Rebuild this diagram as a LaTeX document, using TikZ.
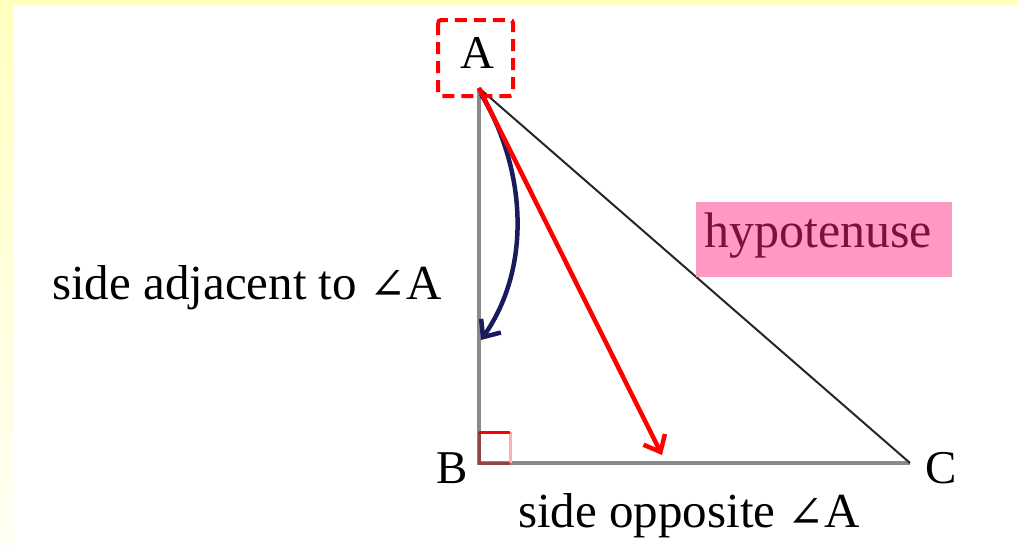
\documentclass[tikz,border=0pt]{standalone}
\usepackage{fontspec}
\setmainfont{Liberation Serif}
\newfontfamily\symfont{DejaVu Serif}
\usetikzlibrary{arrows.meta}
\definecolor{bgyel}{HTML}{FFFFC0}
\definecolor{bgpale}{HTML}{FFFFF4}
\definecolor{sidegray}{HTML}{8A8A8A}
\definecolor{navyarr}{HTML}{1A1A5C}
\definecolor{hypfill}{HTML}{FF99C4}
\definecolor{hyptext}{HTML}{7A1040}
\definecolor{sqpink}{HTML}{FFB0B0}
\newcommand{\angsym}{{\symfont\fontsize{44}{48}\selectfont ∠}}
\tikzset{
  lbl/.style={font=\fontsize{47}{50}\selectfont, inner sep=0pt, anchor=base},
  sidetext/.style={font=\fontsize{49}{53}\selectfont, inner sep=0pt, anchor=base west},
  arr/.style={line width=4.5pt, -{Straight Barb[length=14pt,width=24pt,line width=4.5pt]}},
}
\begin{document}
\begin{tikzpicture}[x=1pt,y=-1pt]
\useasboundingbox (0,0) rectangle (1018,544);
% background
\fill[bgyel] (0,0) rectangle (1018,5);
\shade[top color=bgyel, bottom color=bgpale] (0,5) rectangle (13.5,544);
% vertices
\coordinate (A) at (479,88);
\coordinate (B) at (479,463);
\coordinate (C) at (910,463);
% triangle
\draw[sidegray, line width=3.2pt] (A) -- (B) -- (C);
\draw[black!85, line width=2pt] (A) -- (C);
% right angle square
\draw[sqpink, line width=3pt] (510,432) -- (510,463);
\draw[red, line width=3pt] (479,432) -- (510,432);
\draw[red!60!black, line width=3pt, opacity=0.5] (479,432) -- (479,463) -- (510,463);
% labels
\node[lbl] (la) at (477,68) {A};
\draw[red, line width=4pt, dash pattern=on 12pt off 7pt, rounded corners=3pt] (438,20) rectangle (513,96);
\node[lbl] (lb) at (452.5,483) {B};
\node[lbl] (lc) at (941,483) {C};
% arrows
\coordinate (nvs) at (481,94);
\coordinate (nve) at (481,340);
\draw[arr, navyarr] (nvs) .. controls (524,165) and (534,264) .. (nve);
\coordinate (rde) at (662,455);
\draw[arr, red] (A) -- (rde);
% hypotenuse
\node[fill=hypfill, minimum width=256pt, minimum height=75pt, inner sep=0pt] (hyp) at (824,239.5) {};
\node[text=hyptext, font=\fontsize{50}{54}\selectfont, inner sep=0pt, anchor=base west] (hyptxt) at (704,247) {hypotenuse};
% side texts
\node[sidetext] (adj) at (52,299) {side adjacent to \angsym A};
\node[sidetext] (opp) at (518,527) {side opposite \angsym A};
\end{tikzpicture}
\end{document}
